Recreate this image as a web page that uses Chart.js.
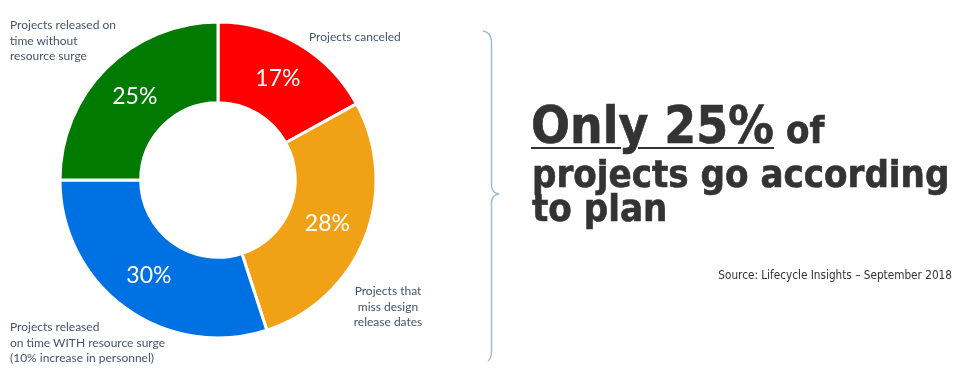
<!DOCTYPE html>
<html>
<head>
<meta charset="utf-8">
<script src="https://cdn.jsdelivr.net/npm/chart.js@4"></script>
<style>
  html, body { margin: 0; padding: 0; background: #fff; }
  #root { position: relative; width: 974px; height: 370px; overflow: hidden; background: #fff; }
  #chartBox { position: absolute; left: 0; top: 0; width: 436px; height: 370px; }
  .lbl { position: absolute; font-family: Lato, "Open Sans", sans-serif; font-size: 12px; line-height: 15.5px; color: #44546A; white-space: nowrap; }
  .big { position: absolute; font-family: "DejaVu Sans Condensed", "DejaVu Sans", sans-serif; font-weight: bold; color: #333333; white-space: nowrap; -webkit-text-stroke: 0.6px #333333; }
  #src { position: absolute; font-family: "DejaVu Sans Condensed", "DejaVu Sans", sans-serif; font-size: 11.7px; color: #333; white-space: nowrap; }
</style>
</head>
<body>
<div id="root">
  <div id="chartBox"><canvas id="c"></canvas></div>

  <div class="lbl" style="left:10px; top:17px;">Projects released on<br>time without<br>resource surge</div>
  <div class="lbl" style="left:309px; top:29px;">Projects canceled</div>
  <div class="lbl" style="left:338px; top:283px; width:100px; text-align:center;">Projects that<br>miss design<br>release dates</div>
  <div class="lbl" style="left:10px; top:319px;">Projects released<br>on time WITH resource surge<br>(10% increase in personnel)</div>

  <svg style="position:absolute; left:0; top:0;" width="974" height="370">
    <path d="M483,31 Q491,32 491.5,42 L491.5,186 Q492,193 499,194 Q492,195 491.5,202 L491.5,352 Q491,359 488,361"
          fill="none" stroke="#9bb9cf" stroke-width="1.4"/>
  </svg>

  <div class="big" style="left:531px; top:96px; font-size:51px; line-height:60px;">
    <span style="text-decoration:underline; text-decoration-thickness:2px; text-underline-offset:4px;">Only 25%</span><span style="font-size:38px;"> of</span>
  </div>
  <div class="big" style="left:532px; top:157px; font-size:38px; line-height:34px;">projects go according<br>to plan</div>

  <div id="src" style="right:22px; top:268px;">Source: Lifecycle Insights – September 2018</div>
</div>

<script>
const categories = [
  "Projects canceled",
  "Projects that miss design release dates",
  "Projects released on time WITH resource surge (10% increase in personnel)",
  "Projects released on time without resource surge"
];
const values = [17, 28, 30, 25];
const colors = ["#FF0000", "#F0A116", "#0071E3", "#007A00"];

const pctLabels = {
  id: 'pctLabels',
  afterDatasetsDraw(chart) {
    const ctx = chart.ctx;
    const meta = chart.getDatasetMeta(0);
    const data = chart.data.datasets[0].data;
    const total = data.reduce((a, b) => a + b, 0);
    ctx.save();
    ctx.fillStyle = '#FFFFFF';
    ctx.font = '23px Lato, "Open Sans", sans-serif';
    ctx.textAlign = 'center';
    ctx.textBaseline = 'middle';
    meta.data.forEach((arc, i) => {
      const p = arc.tooltipPosition();
      ctx.fillText(Math.round(data[i] / total * 100) + '%', p.x, p.y);
    });
    ctx.restore();
  }
};

new Chart(document.getElementById('c'), {
  type: 'doughnut',
  data: {
    labels: categories,
    datasets: [{
      data: values,
      backgroundColor: colors,
      borderColor: '#FFFFFF',
      borderWidth: 3
    }]
  },
  options: {
    responsive: true,
    maintainAspectRatio: false,
    animation: false,
    radius: 158,
    cutout: 80,
    layout: { padding: { top: 15, bottom: 25, left: 0, right: 0 } },
    plugins: { legend: { display: false }, tooltip: { enabled: false } }
  },
  plugins: [pctLabels]
});
</script>
</body>
</html>
